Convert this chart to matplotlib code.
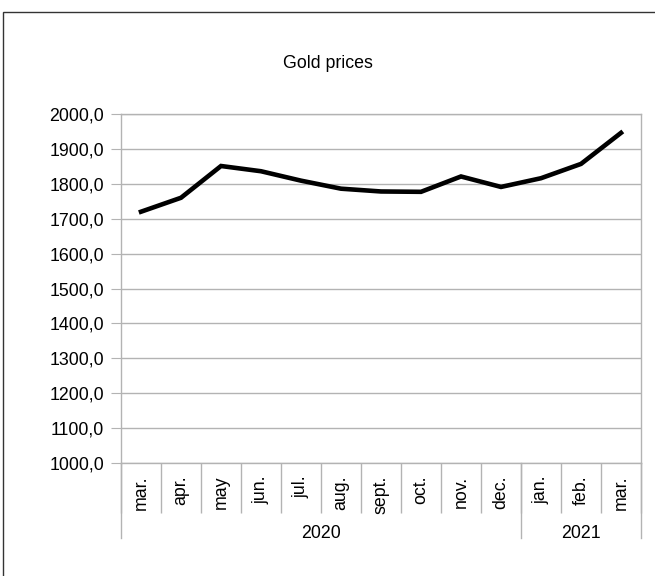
import numpy as np
import matplotlib
matplotlib.use('Agg')
from matplotlib import pyplot as plt
from matplotlib.ticker import FuncFormatter
from matplotlib.patches import Rectangle

plt.rcParams['font.family'] = ['Liberation Sans', 'DejaVu Sans']

months = ['mar.', 'apr.', 'may', 'jun.', 'jul.', 'aug.', 'sept.', 'oct.',
          'nov.', 'dec.', 'jan.', 'feb.', 'mar.']
years = ['2020', '2021']
year_counts = [10, 3]
prices = [1720, 1760, 1851, 1836, 1809, 1786, 1778, 1777, 1821, 1791, 1816, 1857, 1946]
yticks = np.arange(1000, 2001, 100)

grey = '#b3b3b3'
fs = 12.8

fig = plt.figure(figsize=(6.55, 5.76), dpi=100)
# outer frame of the chart object
fig.patches.append(Rectangle((3 / 655, -0.1), 1.2, 1 - 12 / 576 + 0.1,
                             transform=fig.transFigure, fill=False,
                             edgecolor='#333333', linewidth=1))

ax = fig.add_axes([121 / 655, 1 - 463 / 576, 520 / 655, 349 / 576])
xs = np.arange(len(prices)) + 0.5
ax.plot(xs, prices, color='black', linewidth=3.3, solid_joinstyle='miter')

ax.set_xlim(0, len(prices))
ax.set_ylim(1000, 2000)
ax.set_yticks(yticks)
ax.yaxis.set_major_formatter(FuncFormatter(lambda v, p: f'{v:.1f}'.replace('.', ',')))
ax.grid(axis='y', color=grey, linewidth=1)
ax.set_axisbelow(True)
for s in ax.spines.values():
    s.set_color(grey)
    s.set_linewidth(1)

ax.tick_params(axis='y', length=7, color=grey, pad=5, labelsize=fs)
# month separators as long major ticks, month names on minor ticks
ax.set_xticks(np.arange(len(prices) + 1))
ax.set_xticklabels([])
ax.tick_params(axis='x', which='major', length=36, color=grey, width=1)
ax.set_xticks(xs, minor=True)
ax.set_xticklabels(months, minor=True, rotation=90, fontsize=fs, va='top')
ax.tick_params(axis='x', which='minor', length=0, pad=9)

# year groups
trans = ax.get_xaxis_transform()
bounds = np.concatenate([[0], np.cumsum(year_counts)])
for b in bounds:
    ax.plot([b, b], [0, -75 / 349], transform=trans, color=grey, linewidth=1,
            clip_on=False)
for i, y in enumerate(years):
    ax.text((bounds[i] + bounds[i + 1]) / 2, -70 / 349, y, transform=trans,
            ha='center', va='center', fontsize=fs)

fig.text(328 / 655, 1 - 64 / 576, 'Gold prices', ha='center', va='center', fontsize=fs)

fig.savefig('out.png', dpi=100)
